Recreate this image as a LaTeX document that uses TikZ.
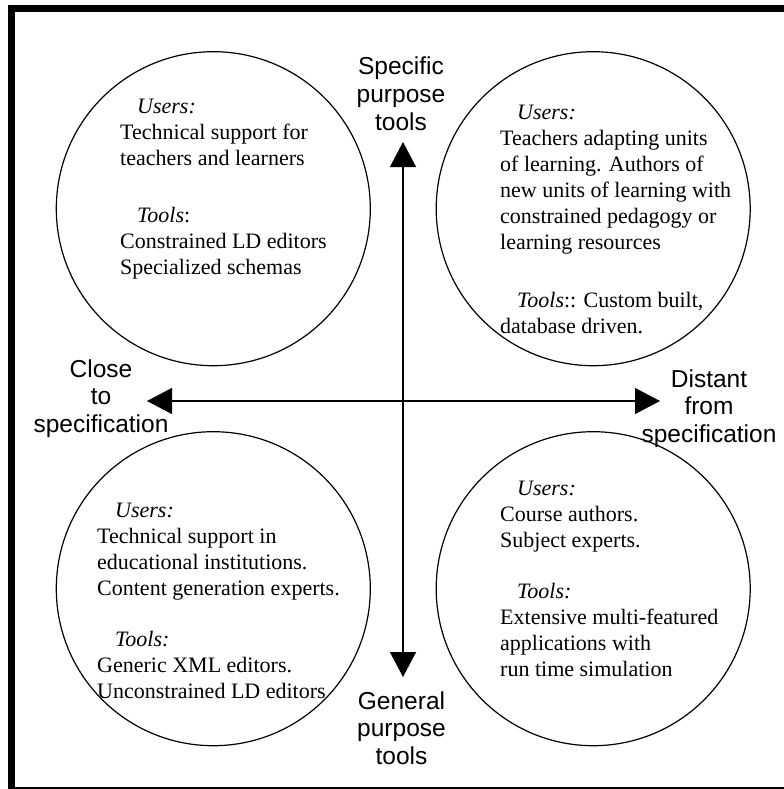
\documentclass[tikz,border=0pt]{standalone}
\usepackage{fontspec}
\setmainfont{Liberation Serif}
\newfontfamily\axisfont{Liberation Sans}
\usetikzlibrary{arrows.meta}
\begin{document}
\begin{tikzpicture}[x=1bp,y=-1bp,
  quadrant/.style={circle, draw, line width=1.2bp, minimum size=314bp, inner sep=0pt},
  % multi-line nodes: the base anchor sits on the last line
  blurb/.style={anchor=base west, align=left, inner sep=0pt,
    font=\fontsize{22bp}{26bp}\selectfont},
  axislabel/.style={anchor=base, align=center, inner sep=0pt,
    font=\axisfont\fontsize{24.5bp}{27.5bp}\selectfont},
  axis/.style={line width=1.3bp,
    {Triangle[length=25bp,width=26bp]}-{Triangle[length=25bp,width=26bp]}}]
\useasboundingbox (0,0) rectangle (784,789);
\clip (0,0) rectangle (784,789);
% outer frame
\draw[line width=7bp] (11.5,8.5) rectangle (800,790);

% the four quadrant circles
\node[quadrant] (tl) at (213.3,208.7) {};
\node[quadrant] (tr) at (593.2,208.7) {};
\node[quadrant] (bl) at (213.3,588.7) {};
\node[quadrant] (br) at (593.2,588.7) {};

% axes
\coordinate (up)    at (403,142);
\coordinate (down)  at (403,677);
\coordinate (left)  at (147,401);
\coordinate (right) at (660,401);
\draw[axis] (up) -- (down);
\draw[axis] (left) -- (right);

% axis labels
\node[axislabel] (specific) at (401,130) {Specific\\purpose\\tools};
\node[axislabel] (general) at (401.5,764) {General\\purpose\\tools};
\node[axislabel] (close) at (101,432) {Close\\to\\specification};
\node[axislabel] (distant) at (709,442) {Distant\\from\\specification};

% quadrant texts
\node[blurb] (tltext) at (120,274) {\hspace*{17bp}\textit{Users:}\\
  Technical support for\\teachers and learners\\[31bp]
  \hspace*{17bp}\textit{Tools}:\\Constrained LD editors\\Specialized schemas};
\node[blurb] (trtext) at (500,333) {\hspace*{17bp}\textit{Users:}\\
  Teachers adapting units\\of learning. Authors of\\new units of learning with\\
  constrained pedagogy or\\learning resources\\[32bp]
  \hspace*{17bp}\textit{Tools}:: Custom built,\\database driven.};
\node[blurb] (bltext) at (97,698) {\hspace*{18bp}\textit{Users:}\\
  Technical support in\\educational institutions.\\Content generation experts.\\[25bp]
  \hspace*{18bp}\textit{Tools:}\\Generic XML editors.\\Unconstrained LD editors};
\node[blurb] (brtext) at (500,676) {\hspace*{17bp}\textit{Users:}\\
  Course authors.\\Subject experts.\\[25bp]
  \hspace*{17bp}\textit{Tools:}\\Extensive multi-featured\\applications with\\run time simulation};
\end{tikzpicture}
\end{document}
